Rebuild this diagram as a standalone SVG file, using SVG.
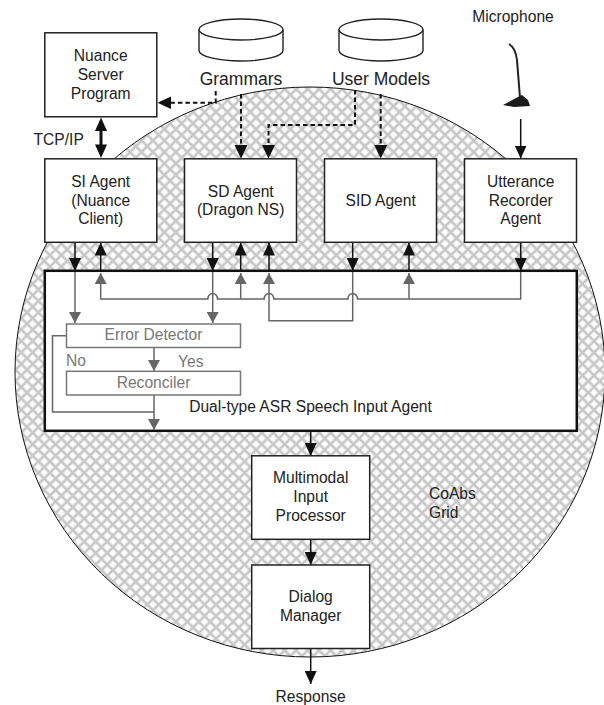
<svg xmlns="http://www.w3.org/2000/svg" width="604" height="705" viewBox="0 0 604 705">
<style>
text{font-family:"Liberation Sans",Arial,sans-serif;font-size:15.6px;fill:#222;text-anchor:middle}
.big{font-size:17.5px}
.st{text-anchor:start}
.box{fill:#fff;stroke:#222;stroke-width:1.5}
.k{fill:none;stroke:#111;stroke-width:1.5}
.g{fill:none;stroke:#666;stroke-width:1.5}
.d{fill:none;stroke:#111;stroke-width:2;stroke-dasharray:4.500 3}
.hd{fill:#111}
.gb{fill:#fff;stroke:#777;stroke-width:1.5}
.gt{fill:#777}
.db{fill:#fff;stroke:#222;stroke-width:1.4}
</style>
<defs>
<pattern id="hatch" x="-4.05" y="-4.05" width="8.1" height="8.1" patternUnits="userSpaceOnUse" patternTransform="translate(405 490) rotate(45)">
<rect width="8.1" height="8.1" fill="#fdfdfd"/>
<path d="M0 0H8.1M0 8.1H8.1M0 0V8.1M8.1 0V8.1" stroke="#e2e2e2" stroke-width="3.400" fill="none"/>
<path d="M0 0H8.1M0 8.1H8.1M0 0V8.1M8.1 0V8.1" stroke="#c6c6c6" stroke-width="1.800" fill="none"/>
</pattern>
<filter id="soft" x="-20%" y="-20%" width="140%" height="140%"><feGaussianBlur stdDeviation="0.5"/></filter>
<marker id="ak" markerWidth="13" markerHeight="12" refX="13" refY="6" orient="auto" markerUnits="userSpaceOnUse"><path d="M0 0L13 6L0 12z" fill="#111"/></marker>
<marker id="ag" markerWidth="11" markerHeight="12" refX="11" refY="6" orient="auto" markerUnits="userSpaceOnUse"><path d="M0 0L11 6L0 12z" fill="#666"/></marker>
</defs>
<ellipse id="grid" cx="310" cy="372" rx="295" ry="285" fill="url(#hatch)" stroke="#111" stroke-width="1"/>
<g id="grammars-db"><path class="db" d="M199 29.500V50.500A42 10.500 0 0 0 283 50.500V29.500"/><ellipse class="db" cx="241" cy="29.500" rx="42" ry="10.500"/></g>
<g id="usermodels-db"><path class="db" d="M339 29.500V50.500A42 10.500 0 0 0 423 50.500V29.500"/><ellipse class="db" cx="381" cy="29.500" rx="42" ry="10.500"/></g>
<g id="microphone"><g filter="url(#soft)"><path d="M509 44C514 47 516 52 517 60L520 98" fill="none" stroke="#222" stroke-width="2"/><path d="M503 105L516 98L522 95L528 100L530 106L514 107z" fill="#1a1a1a"/></g><text x="513" y="22">Microphone</text></g>
<g id="connectors">
<path class="d" d="M215.700 91V102.700H171"/><path class="hd" d="M157.500 102.700L171 96.500V109z"/>
<path class="d" d="M241 94V145"/><path class="hd" d="M241 158.500L234.500 145H247.500z"/>
<path class="d" d="M355 90V125H268.500V145"/><path class="hd" d="M268.500 158.500L262 145H275z"/>
<path class="d" d="M380.700 94V145"/><path class="hd" d="M380.700 158.500L374.200 145H387.200z"/>
<path class="k" d="M520.700 119V158.500" marker-end="url(#ak)"/>
<path class="hd" d="M101 117.500L107 131H102.500V144.500H107L101 158L95 144.500H99.500V131H95z"/>
<path class="k" d="M75 242V271" marker-end="url(#ak)"/>
<path class="k" d="M100.700 271V242.500" marker-end="url(#ak)"/>
<path class="k" d="M212.700 242V271" marker-end="url(#ak)"/>
<path class="k" d="M240.700 271V242.500" marker-end="url(#ak)"/>
<path class="k" d="M269 271V242.500" marker-end="url(#ak)"/>
<path class="k" d="M352.700 242V271" marker-end="url(#ak)"/>
<path class="k" d="M409 271V242.500" marker-end="url(#ak)"/>
<path class="k" d="M520.700 242V271" marker-end="url(#ak)"/>
<path class="k" d="M310.700 431V456" marker-end="url(#ak)"/>
<path class="k" d="M310.700 539V565" marker-end="url(#ak)"/>
<path class="k" d="M310.700 648V684" marker-end="url(#ak)"/>
</g>
<g id="speech-agent"><rect x="44.800" y="270.800" width="532" height="160" fill="#fff" stroke="#111" stroke-width="2.500"/><text x="310.500" y="412">Dual-type ASR Speech Input Agent</text></g>
<g id="inner-connectors">
<path class="g" d="M75 272V323" marker-end="url(#ag)"/>
<path class="g" d="M212.700 272V323" marker-end="url(#ag)"/>
<path class="g" d="M520.700 272V299H357.500A4.800 5.500 0 0 0 347.900 299H273.800A4.800 5.500 0 0 0 264.200 299H217.500A4.800 5.500 0 0 0 207.900 299H100.700V273" marker-end="url(#ag)"/>
<path class="g" d="M240.700 299V273" marker-end="url(#ag)"/>
<path class="g" d="M409 299V273" marker-end="url(#ag)"/>
<path class="g" d="M352.700 272V320.700H269V273" marker-end="url(#ag)"/>
<path class="g" d="M154 347V371" marker-end="url(#ag)"/>
<path class="g" d="M66.500 335.700H52.500V412H154"/>
<path class="g" d="M154 395V430" marker-end="url(#ag)"/>
</g>
<g id="error-detector"><rect class="gb" x="66.500" y="324" width="174" height="23.500"/><text class="gt" x="153.500" y="340">Error Detector</text></g>
<g id="reconciler"><rect class="gb" x="66.500" y="371.300" width="174" height="23.700"/><text class="gt" x="153.500" y="388">Reconciler</text></g>
<g id="nuance"><rect class="box" x="44.800" y="32.800" width="112" height="84"/><text x="100.700" y="61">Nuance</text><text x="100.700" y="80">Server</text><text x="100.700" y="99">Program</text></g>
<g id="si"><rect class="box" x="44.800" y="158.800" width="112" height="83.500"/><text x="100.700" y="187">SI Agent</text><text x="100.700" y="206">(Nuance</text><text x="100.700" y="224">Client)</text></g>
<g id="sd"><rect class="box" x="184.500" y="158.800" width="112" height="83.500"/><text x="240.700" y="197">SD Agent</text><text x="240.700" y="215">(Dragon NS)</text></g>
<g id="sid"><rect class="box" x="324.500" y="158.800" width="112" height="83.500"/><text x="380.700" y="206">SID Agent</text></g>
<g id="utterance"><rect class="box" x="464.500" y="158.800" width="112" height="83.500"/><text x="520.700" y="187">Utterance</text><text x="520.700" y="206">Recorder</text><text x="520.700" y="224">Agent</text></g>
<g id="multimodal"><rect class="box" x="251.700" y="455.800" width="118" height="83.500"/><text x="310.700" y="483">Multimodal</text><text x="310.700" y="502">Input</text><text x="310.700" y="521">Processor</text></g>
<g id="dialog"><rect class="box" x="251.700" y="565" width="118" height="83.500"/><text x="310.700" y="602">Dialog</text><text x="310.700" y="621">Manager</text></g>
<g id="labels">
<text class="big" x="241" y="85">Grammars</text>
<text class="big" x="381" y="85">User Models</text>
<text x="58.700" y="145">TCP/IP</text>
<text class="gt st" x="66" y="366">No</text>
<text class="gt st" x="178" y="367">Yes</text>
<text class="st" x="429" y="499">CoAbs</text><text class="st" x="429" y="518">Grid</text>
<text x="310.700" y="702">Response</text>
</g>
</svg>
